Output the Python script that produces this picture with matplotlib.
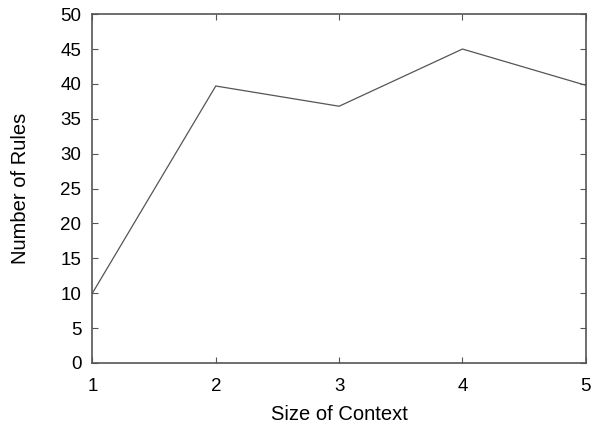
import matplotlib
matplotlib.use("Agg")
import matplotlib.pyplot as plt

context_size = [1, 2, 3, 4, 5]
num_rules = [10, 39.7, 36.8, 45, 39.8]
x_ticks = [1, 2, 3, 4, 5]
y_ticks = [0, 5, 10, 15, 20, 25, 30, 35, 40, 45, 50]

plt.rcParams['font.family'] = ['Liberation Sans', 'DejaVu Sans']

fig = plt.figure(figsize=(5.96, 4.29), dpi=100)
ax = fig.add_axes([0.155, 0.154, 0.828, 0.813])
ax.plot(context_size, num_rules, color='#555555', linewidth=0.9)
ax.set_xlim(1, 5)
ax.set_ylim(0, 50)
ax.set_xticks(x_ticks)
ax.set_yticks(y_ticks)
ax.tick_params(direction='in', length=4, width=0.8, color='#555555',
               top=True, right=True, labelsize=13.5)
ax.tick_params(axis='x', pad=11)
ax.tick_params(axis='y', pad=8)
for s in ax.spines.values():
    s.set_color('#555555')
    s.set_linewidth(1.2)
ax.set_xlabel('Size of Context', fontsize=14.5, labelpad=7)
ax.set_ylabel('Number of Rules', fontsize=14.5, labelpad=22)
fig.savefig('out.png', dpi=100)
